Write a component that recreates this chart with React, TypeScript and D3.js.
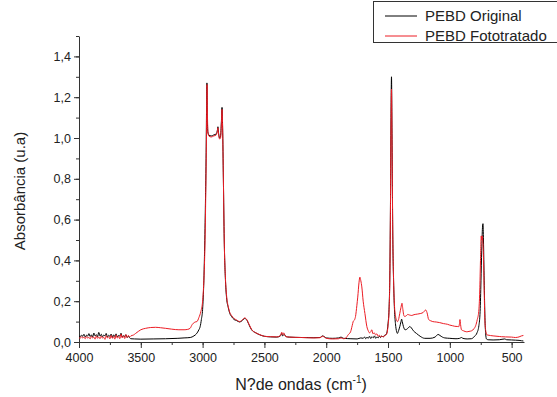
import React, { useEffect, useRef } from "react";
import * as d3 from "d3";

const width = 557;
const height = 397;
const marginLeft = 79;
const marginTop = 36;
const plotRight = 524;
const plotBottom = 342;

const seriesNames = ["PEBD Original", "PEBD Fototratado"];
const seriesColors = ["#000000", "#ec1c24"];
const xTicks = [4000, 3500, 3000, 2500, 2000, 1500, 1000, 500];
const yTicks = [0, 0.2, 0.4, 0.6, 0.8, 1.0, 1.2, 1.4];

// [wavenumber cm-1, absorbance]
const original: [number, number][] = [
  [4000, 0.03], [3990, 0.026], [3980, 0.034], [3970, 0.028], [3960, 0.038], [3950, 0.025],
  [3940, 0.033], [3930, 0.029], [3920, 0.041], [3910, 0.027], [3900, 0.035], [3890, 0.024],
  [3880, 0.044], [3870, 0.03], [3860, 0.036], [3850, 0.026], [3840, 0.047], [3830, 0.029],
  [3820, 0.038], [3810, 0.025], [3800, 0.034], [3790, 0.03], [3780, 0.042], [3770, 0.024],
  [3760, 0.033], [3750, 0.028], [3740, 0.039], [3730, 0.022], [3720, 0.035], [3710, 0.027],
  [3700, 0.04], [3690, 0.025], [3680, 0.032], [3670, 0.029], [3660, 0.043], [3650, 0.024],
  [3640, 0.031], [3630, 0.027], [3620, 0.036], [3610, 0.022], [3600, 0.028], [3590, 0.02],
  [3580, 0.016], [3550, 0.015], [3500, 0.014], [3400, 0.015], [3300, 0.016], [3200, 0.018],
  [3150, 0.02], [3100, 0.022], [3070, 0.03], [3050, 0.04], [3030, 0.06], [3020, 0.075],
  [3010, 0.11], [3000, 0.16], [2990, 0.3], [2985, 0.42], [2978, 0.65], [2972, 0.9],
  [2968, 1.15], [2965, 1.27], [2962, 1.12], [2958, 1.03], [2950, 1.015], [2930, 1.01],
  [2910, 1.015], [2890, 1.02], [2880, 1.04], [2876, 1.055], [2870, 1.02], [2862, 1.0],
  [2855, 1.01], [2848, 1.08], [2843, 1.15], [2838, 1.05], [2832, 0.8], [2825, 0.5],
  [2815, 0.3], [2805, 0.21], [2793, 0.17], [2780, 0.14], [2766, 0.125], [2745, 0.11],
  [2725, 0.105], [2700, 0.098], [2680, 0.105], [2660, 0.115], [2645, 0.11], [2625, 0.085],
  [2604, 0.06], [2570, 0.045], [2537, 0.035], [2500, 0.028], [2450, 0.025], [2400, 0.024],
  [2370, 0.03], [2360, 0.042], [2352, 0.03], [2340, 0.038], [2325, 0.026], [2300, 0.024],
  [2200, 0.022], [2100, 0.021], [2050, 0.022], [2030, 0.03], [2015, 0.026], [2000, 0.02],
  [1950, 0.018], [1900, 0.02], [1880, 0.024], [1860, 0.018], [1800, 0.016], [1750, 0.015],
  [1720, 0.02], [1700, 0.018], [1690, 0.025], [1680, 0.016], [1670, 0.024], [1660, 0.018],
  [1650, 0.028], [1640, 0.017], [1630, 0.026], [1620, 0.02], [1610, 0.03], [1600, 0.018],
  [1590, 0.025], [1580, 0.02], [1570, 0.028], [1560, 0.022], [1550, 0.03], [1540, 0.024],
  [1530, 0.032], [1520, 0.035], [1510, 0.045], [1500, 0.09], [1492, 0.16], [1485, 0.35],
  [1480, 0.7], [1476, 1.1], [1472, 1.3], [1468, 1.05], [1462, 0.55], [1455, 0.3],
  [1448, 0.16], [1440, 0.09], [1430, 0.05], [1424, 0.042], [1415, 0.055], [1405, 0.075],
  [1395, 0.1], [1390, 0.112], [1385, 0.1], [1375, 0.075], [1362, 0.06], [1350, 0.062],
  [1335, 0.07], [1324, 0.076], [1312, 0.07], [1295, 0.055], [1270, 0.042], [1240, 0.028],
  [1203, 0.018], [1160, 0.018], [1120, 0.024], [1095, 0.037], [1080, 0.032], [1060, 0.024],
  [1041, 0.02], [1000, 0.018], [950, 0.016], [920, 0.018], [906, 0.022], [895, 0.018],
  [860, 0.015], [826, 0.016], [800, 0.028], [780, 0.045], [765, 0.08], [755, 0.15],
  [748, 0.3], [742, 0.45], [736, 0.56], [732, 0.58], [728, 0.5], [722, 0.3],
  [716, 0.12], [710, 0.04], [704, 0.015], [690, 0.011], [650, 0.01], [600, 0.011],
  [556, 0.015], [540, 0.011], [500, 0.01], [470, 0.009], [440, 0.008], [420, 0.006],
  [405, 0.005],
];

const fototratado: [number, number][] = [
  [4000, 0.022], [3990, 0.018], [3980, 0.026], [3970, 0.02], [3960, 0.024], [3950, 0.016],
  [3940, 0.027], [3930, 0.019], [3920, 0.023], [3910, 0.015], [3900, 0.028], [3890, 0.02],
  [3880, 0.024], [3870, 0.014], [3860, 0.03], [3850, 0.018], [3840, 0.025], [3830, 0.016],
  [3820, 0.029], [3810, 0.019], [3800, 0.023], [3790, 0.013], [3780, 0.031], [3770, 0.02],
  [3760, 0.026], [3750, 0.015], [3740, 0.033], [3730, 0.018], [3720, 0.027], [3710, 0.014],
  [3700, 0.035], [3690, 0.019], [3680, 0.028], [3670, 0.016], [3660, 0.038], [3650, 0.02],
  [3640, 0.03], [3630, 0.017], [3620, 0.036], [3610, 0.022], [3600, 0.032], [3590, 0.025],
  [3580, 0.03], [3560, 0.034], [3542, 0.042], [3520, 0.052], [3500, 0.06], [3461, 0.067],
  [3420, 0.071], [3380, 0.072], [3340, 0.07], [3299, 0.067], [3250, 0.063], [3192, 0.06],
  [3150, 0.06], [3120, 0.062], [3100, 0.068], [3085, 0.085], [3075, 0.092], [3060, 0.098],
  [3046, 0.1], [3030, 0.12], [3014, 0.15], [3000, 0.2], [2990, 0.3], [2982, 0.45],
  [2975, 0.7], [2970, 0.95], [2966, 1.2], [2964, 1.262], [2961, 1.12], [2957, 1.03],
  [2950, 1.01], [2930, 1.005], [2910, 1.01], [2890, 1.015], [2880, 1.035], [2876, 1.05],
  [2870, 1.015], [2862, 0.995], [2855, 1.0], [2848, 1.07], [2843, 1.14], [2838, 1.04],
  [2832, 0.8], [2825, 0.5], [2815, 0.31], [2805, 0.22], [2793, 0.175], [2780, 0.145],
  [2766, 0.13], [2745, 0.115], [2725, 0.108], [2700, 0.1], [2680, 0.108], [2660, 0.118],
  [2645, 0.112], [2625, 0.088], [2604, 0.062], [2570, 0.045], [2537, 0.036], [2500, 0.028],
  [2450, 0.026], [2400, 0.025], [2370, 0.032], [2360, 0.048], [2352, 0.035], [2345, 0.045],
  [2330, 0.028], [2300, 0.024], [2200, 0.022], [2100, 0.02], [2050, 0.021], [2030, 0.028],
  [2015, 0.024], [2000, 0.018], [1950, 0.015], [1900, 0.016], [1880, 0.02], [1860, 0.016],
  [1840, 0.02], [1823, 0.035], [1803, 0.05], [1790, 0.08], [1782, 0.1], [1770, 0.11],
  [1763, 0.125], [1752, 0.18], [1745, 0.22], [1735, 0.29], [1728, 0.318], [1720, 0.3],
  [1712, 0.27], [1701, 0.2], [1687, 0.14], [1671, 0.075], [1660, 0.055], [1650, 0.045],
  [1640, 0.05], [1631, 0.06], [1622, 0.04], [1612, 0.045], [1600, 0.035], [1590, 0.04],
  [1580, 0.028], [1570, 0.033], [1560, 0.025], [1550, 0.03], [1540, 0.024], [1530, 0.03],
  [1520, 0.033], [1510, 0.04], [1500, 0.08], [1492, 0.15], [1485, 0.33], [1480, 0.68],
  [1476, 1.05], [1472, 1.24], [1468, 1.0], [1462, 0.55], [1455, 0.3], [1448, 0.18],
  [1440, 0.13], [1430, 0.105], [1424, 0.1], [1415, 0.11], [1405, 0.14], [1395, 0.17],
  [1387, 0.19], [1380, 0.16], [1372, 0.13], [1365, 0.125], [1350, 0.13], [1341, 0.135],
  [1325, 0.132], [1308, 0.13], [1290, 0.134], [1260, 0.137], [1235, 0.14], [1215, 0.145],
  [1195, 0.157], [1185, 0.145], [1171, 0.11], [1155, 0.104], [1138, 0.1], [1110, 0.098],
  [1082, 0.095], [1050, 0.09], [1020, 0.087], [1001, 0.083], [980, 0.08], [960, 0.077],
  [940, 0.076], [928, 0.075], [922, 0.09], [918, 0.11], [913, 0.085], [906, 0.06],
  [890, 0.055], [863, 0.05], [845, 0.052], [823, 0.055], [805, 0.065], [791, 0.08],
  [778, 0.11], [766, 0.15], [758, 0.25], [752, 0.4], [746, 0.52], [742, 0.5],
  [738, 0.52], [734, 0.5], [728, 0.42], [722, 0.25], [716, 0.1], [708, 0.05],
  [700, 0.035], [693, 0.034], [650, 0.03], [600, 0.027], [583, 0.026], [550, 0.025],
  [500, 0.024], [470, 0.022], [440, 0.025], [420, 0.03], [405, 0.032],
];

const font = "'Liberation Sans', Arial, sans-serif";

const App = () => {
  const svgRef = useRef<SVGSVGElement>(null);

  useEffect(() => {
    const svg = d3.select(svgRef.current);
    svg.selectAll("*").remove();

    const xScale = d3.scaleLinear().domain([4000, 400]).range([marginLeft, plotRight]);
    const yScale = d3.scaleLinear().domain([0, 1.5]).range([plotBottom, marginTop]);

    const commaFmt = (v: number) => d3.format(".1f")(v).replace(".", ",");

    // minor ticks
    svg
      .append("g")
      .attr("transform", `translate(0,${plotBottom})`)
      .call(d3.axisBottom(xScale).tickValues(d3.range(4000, 399, -250)).tickSize(3).tickFormat(() => "").tickSizeOuter(0))
      .call((g) => g.select(".domain").remove());
    svg
      .append("g")
      .attr("transform", `translate(${marginLeft},0)`)
      .call(d3.axisLeft(yScale).tickValues(d3.range(0, 1.51, 0.1)).tickSize(3).tickFormat(() => "").tickSizeOuter(0))
      .call((g) => g.select(".domain").remove());

    const xAxis = svg
      .append("g")
      .attr("transform", `translate(0,${plotBottom})`)
      .call(d3.axisBottom(xScale).tickValues(xTicks).tickSize(6).tickPadding(5).tickSizeOuter(0).tickFormat(d3.format("d")));
    const yAxis = svg
      .append("g")
      .attr("transform", `translate(${marginLeft},0)`)
      .call(d3.axisLeft(yScale).tickValues(yTicks).tickSize(5).tickPadding(3).tickSizeOuter(0).tickFormat((d) => commaFmt(d as number)));

    [xAxis, yAxis].forEach((g) => {
      g.selectAll("text").attr("font-family", font).attr("font-size", 12.5).attr("fill", "#222");
    });
    svg.selectAll(".domain, .tick line").attr("stroke", "#333").attr("stroke-width", 1);

    const spectrum = d3
      .line<[number, number]>()
      .x((d) => xScale(d[0]))
      .y((d) => yScale(d[1]))
      .curve(d3.curveMonotoneX);

    [original, fototratado].forEach((data, i) => {
      svg
        .append("path")
        .datum(data)
        .attr("fill", "none")
        .attr("stroke", seriesColors[i])
        .attr("stroke-width", 1)
        .attr("stroke-linejoin", "round")
        .attr("d", spectrum);
    });

    // axis titles
    svg
      .append("text")
      .attr("transform", `translate(25,${191}) rotate(-90)`)
      .attr("text-anchor", "middle")
      .attr("font-family", font)
      .attr("font-size", 15)
      .attr("fill", "#222")
      .text("Absorbância (u.a)");

    const xt = svg
      .append("text")
      .attr("x", 301)
      .attr("y", 390)
      .attr("text-anchor", "middle")
      .attr("font-family", font)
      .attr("font-size", 16)
      .attr("fill", "#222");
    xt.append("tspan").text("N?de ondas (cm");
    xt.append("tspan").attr("font-size", 10).attr("dy", -7).text("-1");
    xt.append("tspan").attr("dy", 7).text(")");

    // legend
    const legend = svg.append("g");
    legend
      .append("rect")
      .attr("x", 373.5)
      .attr("y", 1.5)
      .attr("width", 200)
      .attr("height", 41)
      .attr("fill", "#fff")
      .attr("stroke", "#333");
    seriesNames.forEach((name, i) => {
      const y = 16 + i * 20;
      legend
        .append("line")
        .attr("x1", 385)
        .attr("x2", 417)
        .attr("y1", y)
        .attr("y2", y)
        .attr("stroke", seriesColors[i]);
      legend
        .append("text")
        .attr("x", 425)
        .attr("y", y + 5)
        .attr("font-family", font)
        .attr("font-size", 15)
        .attr("fill", "#222")
        .text(name);
    });
  }, []);

  return (
    <svg
      ref={svgRef}
      width={width}
      height={height}
      style={{ position: "absolute", left: 0, top: 0, background: "#fff" }}
    />
  );
};

export default App;
